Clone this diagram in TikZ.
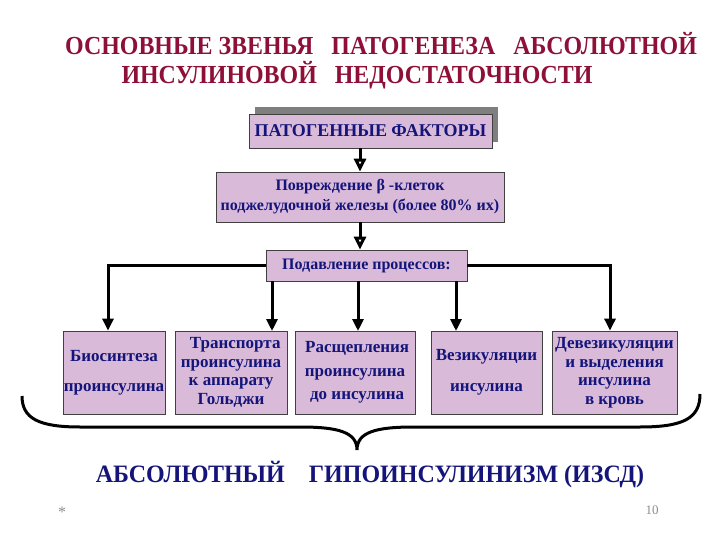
\documentclass[tikz,border=0pt]{standalone}
\usepackage{fontspec}
\setmainfont{Liberation Serif}
\newfontfamily\titlefont[FakeStretch=0.92]{Liberation Serif}
\newfontfamily\resfont[FakeStretch=0.96]{Liberation Serif}
\usetikzlibrary{arrows.meta}
\definecolor{boxfill}{HTML}{D9BBD9}
\definecolor{navy}{HTML}{14147A}
\definecolor{titlered}{HTML}{8E1038}
\definecolor{shadowgray}{HTML}{7F7F7F}
\tikzset{
  pbox/.style={draw=black!75, line width=0.8pt, fill=boxfill, inner sep=0pt, align=center,
     text=navy, font=\bfseries\fontsize{17}{18.5}\selectfont},
  conn/.style={line width=3pt, -{Triangle[length=12pt,width=11pt]}},
  openconn/.style={line width=3pt, -{Triangle[open,length=13pt,width=12pt,line width=3pt]}},
}
\begin{document}
\begin{tikzpicture}[x=1pt,y=-1pt]
\useasboundingbox (0,0) rectangle (720,540);
\fill[white] (0,0) rectangle (720,540);
% title
\node[text=titlered, font=\titlefont\bfseries\fontsize{26}{28}\selectfont] (t1) at (381,44) {ОСНОВНЫЕ ЗВЕНЬЯ \ \ ПАТОГЕНЕЗА \ \ АБСОЛЮТНОЙ};
\node[text=titlered, font=\titlefont\bfseries\fontsize{26}{28}\selectfont] (t2) at (357,75) {ИНСУЛИНОВОЙ \ \ НЕДОСТАТОЧНОСТИ};
% patogen box with shadow
\fill[shadowgray] (255,107) rectangle (498,142);
\node[pbox, minimum width=243pt, minimum height=34pt, font=\bfseries\fontsize{18}{20}\selectfont] (pf) at (370.5,131) {ПАТОГЕННЫЕ ФАКТОРЫ};
\node[pbox, minimum width=288pt, minimum height=50pt, font=\bfseries\fontsize{16}{20}\selectfont] (pov) at (360,197) {Повреждение β -клеток\\поджелудочной железы (более 80\% их)};
\node[pbox, minimum width=201pt, minimum height=31pt, font=\bfseries\fontsize{16}{18}\selectfont] (pod) at (366.5,265.5) {Подавление процессов:};
% bottom boxes
\node[pbox, minimum width=102pt, minimum height=83pt, font=\bfseries\fontsize{17}{30}\selectfont] (b1) at (114,372.5) {Биосинтеза\\проинсулина};
\node[pbox, minimum width=112pt, minimum height=83pt] (b2) at (231,372.5) {\ \ Транспорта\\проинсулина\\к аппарату\\Гольджи};
\node[pbox, minimum width=120pt, minimum height=83pt, font=\bfseries\fontsize{17}{23.5}\selectfont] (b3) at (355,372.5) {\ Расщепления\\проинсулина\\\ до инсулина};
\node[pbox, minimum width=111pt, minimum height=83pt, font=\bfseries\fontsize{17}{31}\selectfont] (b4) at (486.5,372.5) {Везикуляции\\инсулина};
\node[pbox, minimum width=125pt, minimum height=83pt] (b5) at (614.5,372.5) {Девезикуляции\\и выделения\\инсулина\\в кровь};
% connectors
\draw[openconn] (pf.south -| pov.north) -- (pov.north);
\draw[openconn] (pov.south) -- (pov.south |- pod.north);
\coordinate (cl) at (108,265.5);
\coordinate (cr) at (610,265.5);
\draw[conn] (pod.west) -- (cl) -- (cl |- b1.north);
\draw[conn] (pod.east) -- (cr) -- (cr |- b5.north);
\draw[conn] (pod.south -| 272,0) -- (272,331);
\draw[conn] (pod.south -| 358,0) -- (358,331);
\draw[conn] (pod.south -| 456,0) -- (456,331);
% brace
\draw[line width=3pt] (22,396) .. controls (22,418) and (38,427) .. (80,427) -- (300,427)
  .. controls (338,427) and (357,432) .. (357,450)
  .. controls (357,432) and (376,427) .. (414,427) -- (640,427)
  .. controls (684,427) and (700,418) .. (700,394);
\node[text=navy, font=\resfont\bfseries\fontsize{25}{27}\selectfont] (res) at (370,475) {АБСОЛЮТНЫЙ \ \ \ ГИПОИНСУЛИНИЗМ (ИЗСД)};
\node[text=black!45, font=\fontsize{16}{16}\selectfont] (star) at (62,512) {*};
\node[text=black!45, font=\fontsize{13}{14}\selectfont] (num) at (652,510) {10};
\end{tikzpicture}
\end{document}
